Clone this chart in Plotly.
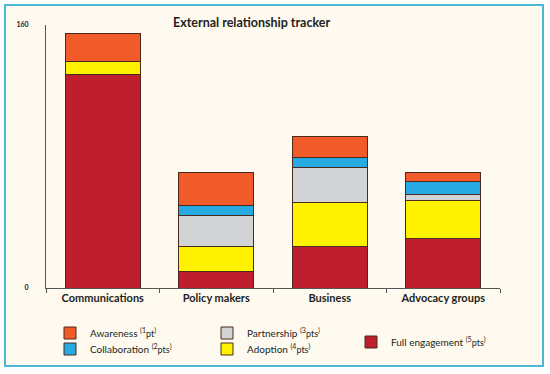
import plotly.graph_objects as go

categories = ["Communications", "Policy makers", "Business", "Advocacy groups"]
full_engagement = [130, 10, 25, 30]
adoption = [8, 15.5, 27, 23.5]
partnership = [None, 18.5, 21.5, 3.5]
collaboration = [None, 6, 6, 8]
awareness = [17, 20, 12.5, 5.5]

series = [
    ("Full engagement", full_engagement, "#be1e2d", "(5", "pts"),
    ("Adoption", adoption, "#fff200", "(4", "pts"),
    ("Partnership", partnership, "#d1d3d4", "(3", "pts"),
    ("Collaboration", collaboration, "#27aae1", "(2", "pts"),
    ("Awareness", awareness, "#f15a29", "(1", "pt"),
]
y_ticks = [0, 160]

W, H = 550, 374
L, R, T, B = 46, 50, 25, 86
pw, ph = W - L - R, H - T - B

def px(x):
    return (x - L) / pw

def py(y):
    return (H - B - y) / ph

# legend placement (pixel) per series
legend_pos = {
    "Awareness": (50, 333),
    "Collaboration": (50, 349),
    "Partnership": (207, 333),
    "Adoption": (207, 349),
    "Full engagement": (351, 342),
}

fig = go.Figure()
layout_legends = {}
for i, (name, vals, color, sup, unit) in enumerate(series):
    lname = "legend" if i == 0 else f"legend{i+1}"
    label = f"{name} <sup>{sup}</sup><span style='font-size:9px'>{unit}</span><sup>)</sup>"
    fig.add_trace(go.Bar(
        x=categories, y=vals, name=label,
        marker=dict(color=color, line=dict(color="#4a2a1e", width=1)),
        legend=lname, width=0.66,
    ))
    lx, ly = legend_pos[name]
    layout_legends[lname] = dict(
        x=px(lx), y=py(ly), xanchor="left", yanchor="middle",
        bgcolor="rgba(0,0,0,0)", borderwidth=0,
        font=dict(family="Lato, Open Sans, sans-serif", size=10, color="#231f20"),
    )

fig.update_layout(
    width=W, height=H,
    margin=dict(l=L, r=R, t=T, b=B, autoexpand=False),
    barmode="stack",
    bargap=0.34,
    paper_bgcolor="white",
    plot_bgcolor="rgba(0,0,0,0)",
    showlegend=True,
    hovermode=False,
    font=dict(family="Lato, Open Sans, sans-serif", color="#231f20"),
    **layout_legends,
)

fig.update_yaxes(
    range=[0, 160], tickvals=y_ticks, ticktext=[str(v) for v in y_ticks],
    showgrid=False, zeroline=False, showline=True, linecolor="#555555", linewidth=1,
    ticks="", ticklabelstandoff=15,
    tickfont=dict(family="Lato, sans-serif", size=7, color="#231f20", weight="bold"),
)
fig.update_xaxes(
    showgrid=False, showline=True, linecolor="#555555", linewidth=1,
    ticks="outside", tickson="boundaries", ticklen=4, tickcolor="#555555",
    tickfont=dict(family="Lato, sans-serif", size=11, color="#231f20", weight="bold"),
)

# frame
fig.add_shape(type="rect", xref="paper", yref="paper",
              x0=px(5), x1=px(543), y0=py(366), y1=py(5),
              fillcolor="#fefaf0", line=dict(color="#4db8d4", width=2), layer="below")

fig.add_annotation(text="<b>External relationship tracker</b>", xref="paper", yref="paper",
                   x=px(251), y=py(23), xanchor="center", yanchor="middle", showarrow=False,
                   font=dict(family="Lato, sans-serif", size=12.5, color="#231f20"))

fig.write_html("out.html", config={"displayModeBar": False},
               post_script="document.body.style.margin='0';")
